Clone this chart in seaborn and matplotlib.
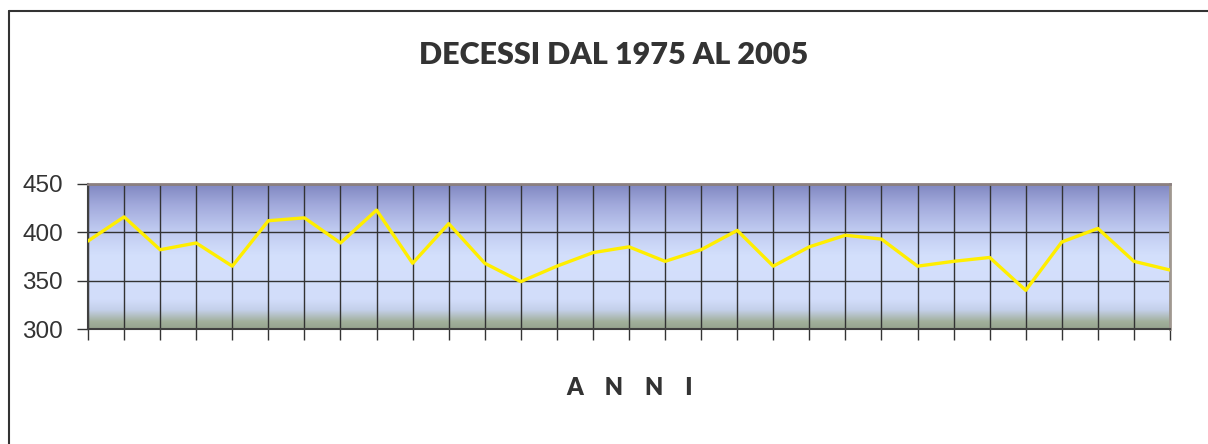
import matplotlib
matplotlib.use('Agg')
import matplotlib.pyplot as plt
import numpy as np
import pandas as pd
import seaborn as sns
from matplotlib.colors import LinearSegmentedColormap
from matplotlib.lines import Line2D

sns.set_style('white')

# dati
anni = [1975, 1976, 1977, 1978, 1979, 1980, 1981, 1982, 1983, 1984, 1985,
        1986, 1987, 1988, 1989, 1990, 1991, 1992, 1993, 1994, 1995,
        1996, 1997, 1998, 1999, 2000, 2001, 2002, 2003, 2004, 2005]
decessi = [391, 416, 382, 389, 365, 412, 415, 389, 423, 368, 409,
           368, 349, 365, 379, 385, 370, 382, 402, 365, 385,
           397, 393, 365, 370, 374, 340, 390, 404, 370, 361]
y_ticks = [300, 350, 400, 450]

df = pd.DataFrame({'anno': anni, 'decessi': decessi})

fig = plt.figure(figsize=(12.08, 4.44), dpi=100)
ax = fig.add_axes([88/1208, 1-329/444, (1170-88)/1208, (329-184)/444])

# sfondo sfumato
stops = [(0.0, '#96a48e'), (0.05, '#a2b09c'), (0.13, '#c4d0ea'), (0.2, '#d2ddfa'),
         (0.5, '#d4e0fc'), (0.68, '#bfcaf0'), (0.85, '#a2aadc'), (1.0, '#7f86c0')]
cmap = LinearSegmentedColormap.from_list('sfondo', stops)
grad = np.linspace(0, 1, 256).reshape(-1, 1)
ax.imshow(grad, extent=[anni[0], anni[-1], 300, 450], origin='lower',
          aspect='auto', cmap=cmap, zorder=-1)

sns.lineplot(data=df, x='anno', y='decessi', ax=ax, color='#ffee00', lw=2.4, zorder=3)

ax.set_xlim(anni[0], anni[-1])
ax.set_ylim(300, 450)
ax.set_xticks(anni)
ax.set_xticklabels([])
ax.set_yticks(y_ticks)
ax.set_yticklabels([str(v) for v in y_ticks], fontsize=17.5, family='Liberation Sans', color='#333333')
ax.grid(True, color='#333333', lw=1.0)
ax.tick_params(axis='both', direction='out', length=8, width=1, color='#333333', pad=10, bottom=True, left=True)
ax.set_xlabel('')
ax.set_ylabel('')

for lato in ['left', 'bottom']:
    ax.spines[lato].set_color('#404040')
    ax.spines[lato].set_linewidth(1.5)
ax.spines['top'].set_color('#8c8080')
ax.spines['top'].set_linewidth(2)
ax.spines['right'].set_color('#a09890')
ax.spines['right'].set_linewidth(2)

fig.text(614/1208, 1-55/444, 'DECESSI DAL 1975 AL 2005', ha='center', va='center',
         fontsize=22, fontweight='heavy', family='Lato', color='#333333')
fig.text(630/1208, 1-388/444, 'A    N    N    I', ha='center', va='center',
         fontsize=17, fontweight='heavy', family='Lato', color='#333333')

# cornice esterna (solo sinistra e alto visibili)
fig.add_artist(Line2D([9/1208, 9/1208], [0, 1-11/444], transform=fig.transFigure, color='#333333', lw=1.5))
fig.add_artist(Line2D([9/1208, 1], [1-11/444, 1-11/444], transform=fig.transFigure, color='#333333', lw=1.5))

fig.savefig('out.png', dpi=100)
